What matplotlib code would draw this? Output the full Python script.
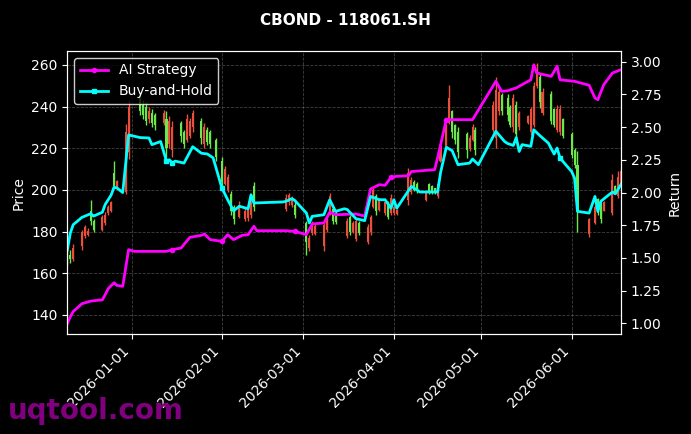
import pandas as pd
import matplotlib
matplotlib.use("Agg")
import matplotlib.pyplot as plt
import matplotlib.dates as mdates

# Candles (red = up, green = down)
candle_dates = [
    "2025-12-10", "2025-12-11", "2025-12-12", "2025-12-15", "2025-12-16", "2025-12-17",
    "2025-12-18", "2025-12-19", "2025-12-22", "2025-12-23", "2025-12-24", "2025-12-25",
    "2025-12-26", "2025-12-27", "2025-12-30", "2025-12-31", "2026-01-04", "2026-01-05",
    "2026-01-06", "2026-01-07", "2026-01-08", "2026-01-09", "2026-01-12", "2026-01-13",
    "2026-01-14", "2026-01-15", "2026-01-18", "2026-01-19", "2026-01-20", "2026-01-21",
    "2026-01-22", "2026-01-25", "2026-01-26", "2026-01-27", "2026-01-28", "2026-01-30",
    "2026-02-01", "2026-02-02", "2026-02-03", "2026-02-04", "2026-02-05", "2026-02-07",
    "2026-02-09", "2026-02-10", "2026-02-11", "2026-02-12", "2026-02-23", "2026-02-24",
    "2026-02-25", "2026-02-26", "2026-03-02", "2026-03-03", "2026-03-04", "2026-03-05",
    "2026-03-08", "2026-03-09", "2026-03-10", "2026-03-11", "2026-03-12", "2026-03-16",
    "2026-03-17", "2026-03-18", "2026-03-19", "2026-03-20", "2026-03-23", "2026-03-24",
    "2026-03-25", "2026-03-26", "2026-03-27", "2026-03-29", "2026-03-30", "2026-03-31",
    "2026-04-01", "2026-04-02", "2026-04-06", "2026-04-07", "2026-04-08", "2026-04-09",
    "2026-04-12", "2026-04-13", "2026-04-14", "2026-04-15", "2026-04-16", "2026-04-17",
    "2026-04-19", "2026-04-20", "2026-04-21", "2026-04-22", "2026-04-23", "2026-04-26",
    "2026-04-27", "2026-04-28", "2026-04-29", "2026-05-05", "2026-05-06", "2026-05-07",
    "2026-05-08", "2026-05-10", "2026-05-11", "2026-05-12", "2026-05-13", "2026-05-14",
    "2026-05-17", "2026-05-18", "2026-05-19", "2026-05-20", "2026-05-21", "2026-05-22",
    "2026-05-25", "2026-05-26", "2026-05-27", "2026-05-28", "2026-05-29", "2026-06-01",
    "2026-06-02", "2026-06-03", "2026-06-07", "2026-06-09", "2026-06-10", "2026-06-11",
    "2026-06-12", "2026-06-15", "2026-06-16", "2026-06-17", "2026-06-18",
]
opens = [
    170, 169, 167, 173, 178, 178.5, 190, 185, 181, 184, 189, 190,
    208, 201.5, 199, 218, 244, 241, 240, 234, 237, 236, 232, 234,
    222, 219, 232, 228, 224, 226, 230, 233, 222, 229, 228, 224,
    214, 203, 200, 198, 192, 187, 186, 186.5, 188, 202, 191, 194,
    193, 193, 184, 172, 179.5, 179, 173, 181, 189, 191, 189, 178,
    187, 180, 176.5, 184, 175, 180, 192, 197, 190.5, 189, 193, 189,
    189, 188.5, 195, 199, 204, 203, 195, 203, 202, 201, 197, 214,
    221, 232, 238, 231, 228, 227, 219.5, 224, 229, 229, 225, 238,
    245.5, 244, 240, 230, 241, 230, 232, 228, 231, 250, 254, 237,
    246, 239, 229, 228, 234, 227, 219, 212, 179, 184, 195.5, 193,
    190, 189, 202, 197, 202,
]
highs = [
    172, 171, 174, 181, 183, 181.5, 195, 186, 188, 189.5, 193, 194.5,
    214, 205, 231.5, 243, 245, 243, 242, 240, 239, 237, 238.5, 238,
    235.5, 233, 233, 229, 236.5, 234.5, 238.6, 234.5, 232, 230, 229, 225,
    216, 211.5, 207.5, 199.5, 193, 194.5, 191.5, 193, 198, 204, 198, 198.5,
    197, 194, 185, 178.5, 185, 183.5, 185, 188, 198.6, 192, 190, 186.5,
    188, 185, 186.5, 185, 183.5, 188, 201, 198, 196, 194.5, 194.5, 198,
    193, 191, 210.5, 206, 205, 204, 199.5, 203.5, 202.5, 201, 204, 222,
    231.5, 250.5, 238.5, 231.5, 230, 228, 226.5, 231.5, 230, 242.5, 254, 249,
    246.5, 246, 241, 246, 242.5, 238, 236, 240, 252, 261, 255.5, 249,
    247.5, 239.5, 241, 241, 234.5, 228, 220, 218.5, 186.5, 193, 196, 194,
    194.5, 207.5, 202.5, 209, 210.5,
]
lows = [
    164, 165, 166, 171, 177, 178, 183, 180, 180.5, 183, 188, 189.5,
    201, 201, 198, 215, 236, 234, 231, 232, 230, 229, 231, 216,
    220, 216, 223, 220, 223, 225, 228, 222, 220, 221.5, 220, 214,
    201, 202.5, 199, 188, 183.5, 186.5, 185, 185, 186.5, 190, 190, 193,
    192, 186.5, 169, 170.5, 178.5, 178.5, 170.5, 180, 188, 183.5, 183.5, 177,
    178.5, 179.5, 175.5, 178.5, 174, 178.5, 191.5, 188, 190, 188, 186, 188,
    188, 188, 193, 198, 199.5, 198.5, 194.5, 198, 198, 198, 196, 213.5,
    220, 231.5, 225, 222, 215.5, 215.5, 218.5, 223.5, 217, 228, 220, 236,
    236, 233, 230, 228, 225, 229, 231.5, 226.5, 230, 249, 239.5, 236,
    231.5, 230, 228, 226.5, 225, 215.5, 210.5, 180, 177.5, 183.5, 188, 184,
    190, 188, 198, 196, 201,
]
closes = [
    166, 167, 172, 180, 182, 180.5, 185, 181, 187, 188, 192, 194,
    202, 204.5, 228, 240, 238, 236, 233, 238, 232, 231, 237, 220,
    233, 230, 226, 222, 234, 233, 237, 225, 230, 223, 222, 216,
    204, 210, 206, 190, 186, 193, 190, 191, 196, 192, 196, 197.5,
    196, 188, 175, 177, 184, 182.5, 183, 187, 197, 185, 184.5, 185,
    180, 184, 185, 179.5, 182, 187, 200, 190, 195, 194, 187, 196,
    192, 190.5, 208, 205, 200, 199.5, 199, 198.5, 199, 198.5, 203, 221,
    230, 244, 228, 224, 218, 219, 225, 230, 219, 241, 248, 247,
    238, 236, 231, 244, 227, 237, 235.5, 239, 250, 258, 242, 247,
    233, 231, 239, 239, 226, 217, 212, 190, 186, 192, 189, 186,
    194, 205, 198.5, 206, 209,
]

# Strategy return curves
ai_dates = [
    "2025-12-10", "2025-12-11", "2025-12-12", "2025-12-15", "2025-12-18", "2025-12-22",
    "2025-12-23", "2025-12-24", "2025-12-26", "2025-12-27", "2025-12-29", "2025-12-31",
    "2026-01-02", "2026-01-13", "2026-01-15", "2026-01-18", "2026-01-21", "2026-01-25",
    "2026-01-26", "2026-01-28", "2026-02-01", "2026-02-03", "2026-02-05", "2026-02-08",
    "2026-02-10", "2026-02-12", "2026-02-13", "2026-02-23", "2026-02-26", "2026-03-02",
    "2026-03-04", "2026-03-08", "2026-03-10", "2026-03-12", "2026-03-19", "2026-03-22",
    "2026-03-24", "2026-03-27", "2026-03-29", "2026-03-31", "2026-04-02", "2026-04-06",
    "2026-04-07", "2026-04-15", "2026-04-16", "2026-04-19", "2026-04-28", "2026-05-06",
    "2026-05-08", "2026-05-10", "2026-05-13", "2026-05-18", "2026-05-19", "2026-05-20",
    "2026-05-25", "2026-05-27", "2026-05-28", "2026-06-02", "2026-06-07", "2026-06-09",
    "2026-06-10", "2026-06-12", "2026-06-15", "2026-06-18",
]
ai_ret = [
    1.00, 1.05, 1.09, 1.15, 1.17, 1.18,
    1.22, 1.265, 1.31, 1.29, 1.283, 1.563,
    1.55, 1.55, 1.563, 1.576, 1.657, 1.673,
    1.683, 1.64, 1.627, 1.678, 1.64, 1.673,
    1.678, 1.742, 1.708, 1.708, 1.703, 1.678,
    1.76, 1.767, 1.85, 1.83, 1.836, 1.82,
    2.027, 2.06, 2.055, 2.116, 2.124, 2.128,
    2.16, 2.175, 2.264, 2.557, 2.557, 2.85,
    2.774, 2.778, 2.80, 2.862, 2.977, 2.914,
    2.888, 2.965, 2.862, 2.85, 2.82, 2.722,
    2.71, 2.824, 2.914, 2.94,
]
bh_dates = [
    "2025-12-10", "2025-12-11", "2025-12-12", "2025-12-15", "2025-12-18", "2025-12-19",
    "2025-12-22", "2025-12-23", "2025-12-25", "2025-12-26", "2025-12-27", "2025-12-29",
    "2025-12-31", "2026-01-04", "2026-01-07", "2026-01-08", "2026-01-11", "2026-01-13",
    "2026-01-14", "2026-01-15", "2026-01-16", "2026-01-19", "2026-01-22", "2026-01-25",
    "2026-01-27", "2026-01-29", "2026-02-01", "2026-02-03", "2026-02-05", "2026-02-07",
    "2026-02-10", "2026-02-11", "2026-02-12", "2026-02-22", "2026-02-23", "2026-02-25",
    "2026-02-26", "2026-03-02", "2026-03-03", "2026-03-04", "2026-03-08", "2026-03-10",
    "2026-03-12", "2026-03-15", "2026-03-16", "2026-03-19", "2026-03-22", "2026-03-24",
    "2026-03-27", "2026-03-29", "2026-03-31", "2026-04-01", "2026-04-02", "2026-04-07",
    "2026-04-10", "2026-04-16", "2026-04-17", "2026-04-19", "2026-04-21", "2026-04-23",
    "2026-04-27", "2026-04-28", "2026-04-30", "2026-05-06", "2026-05-09", "2026-05-10",
    "2026-05-12", "2026-05-13", "2026-05-14", "2026-05-15", "2026-05-18", "2026-05-19",
    "2026-05-21", "2026-05-24", "2026-05-26", "2026-05-27", "2026-05-28", "2026-06-01",
    "2026-06-02", "2026-06-03", "2026-06-07", "2026-06-09", "2026-06-10", "2026-06-11",
    "2026-06-15", "2026-06-16", "2026-06-18",
]
bh_ret = [
    1.563, 1.69, 1.754, 1.81, 1.838, 1.82,
    1.849, 1.91, 1.98, 2.04, 2.035, 2.00,
    2.44, 2.42, 2.417, 2.366, 2.39, 2.24,
    2.25, 2.225, 2.24, 2.225, 2.35, 2.30,
    2.295, 2.265, 2.035, 1.945, 1.86, 1.895,
    1.876, 1.983, 1.92, 1.928, 1.933, 1.953,
    1.94, 1.843, 1.767, 1.818, 1.83, 1.945,
    1.856, 1.876, 1.87, 1.80, 1.785, 1.97,
    1.945, 1.945, 1.88, 1.945, 1.88, 2.047,
    2.004, 2.004, 2.149, 2.346, 2.32, 2.213,
    2.225, 2.256, 2.213, 2.468, 2.39, 2.375,
    2.36, 2.42, 2.314, 2.366, 2.353, 2.48,
    2.437, 2.378, 2.294, 2.34, 2.264, 2.16,
    2.11, 1.856, 1.843, 1.97, 1.856, 1.933,
    2.004, 1.99, 2.065,
]

# points where a marker shows up on the curves
ai_marks = [14, 20, 28, 39, 45]
bh_marks = [17, 19, 26, 76]

title = "CBOND - 118061.SH"
up_color = "#e8503c"
down_color = "#6be84a"

cd = pd.to_datetime(candle_dates)
colors = [up_color if c >= o else down_color for o, c in zip(opens, closes)]
body_low = [min(o, c) for o, c in zip(opens, closes)]
body_h = [max(abs(c - o), 0.4) for o, c in zip(opens, closes)]

fig = plt.figure(figsize=(6.91, 4.34), dpi=100, facecolor="black")
ax = fig.add_axes([0.0975, 0.2297, 0.8015, 0.6528], facecolor="black")

ax.vlines(cd, lows, highs, colors=colors, linewidth=1, zorder=2)
ax.bar(cd, body_h, bottom=body_low, width=0.7, color=colors, zorder=3)

ax.set_ylim(130.7, 266.7)
ax.set_xlim(pd.Timestamp("2025-12-10"), pd.Timestamp("2026-06-18"))
ax.set_ylabel("Price", color="white")
ax.grid(True, color="gray", linestyle="--", linewidth=0.6, alpha=0.5)
ax.xaxis.set_major_locator(mdates.MonthLocator())
ax.xaxis.set_major_formatter(mdates.DateFormatter("%Y-%m-%d"))
plt.setp(ax.get_xticklabels(), rotation=45, ha="right")

ax2 = ax.twinx()
ax2.plot(pd.to_datetime(ai_dates), ai_ret, color="#ff00ff", linewidth=2,
         marker="o", markersize=3, markevery=ai_marks, label="AI Strategy")
ax2.plot(pd.to_datetime(bh_dates), bh_ret, color="#00ffff", linewidth=2,
         marker="s", markersize=3, markevery=bh_marks, label="Buy-and-Hold")
ax2.set_ylim(0.916, 3.082)
ax2.set_ylabel("Return", color="white")

for a in (ax, ax2):
    a.tick_params(colors="white")
    for s in a.spines.values():
        s.set_color("white")

leg = ax2.legend(loc="upper left", facecolor="black", edgecolor="white", fontsize=10)
for t in leg.get_texts():
    t.set_color("white")

fig.suptitle(title, color="white", fontweight="bold", fontsize=11, y=0.97)
fig.text(0.012, 0.035, "uqtool.com", color="purple", fontsize=20, fontweight="bold")

fig.savefig("out.png", dpi=100, facecolor="black")
